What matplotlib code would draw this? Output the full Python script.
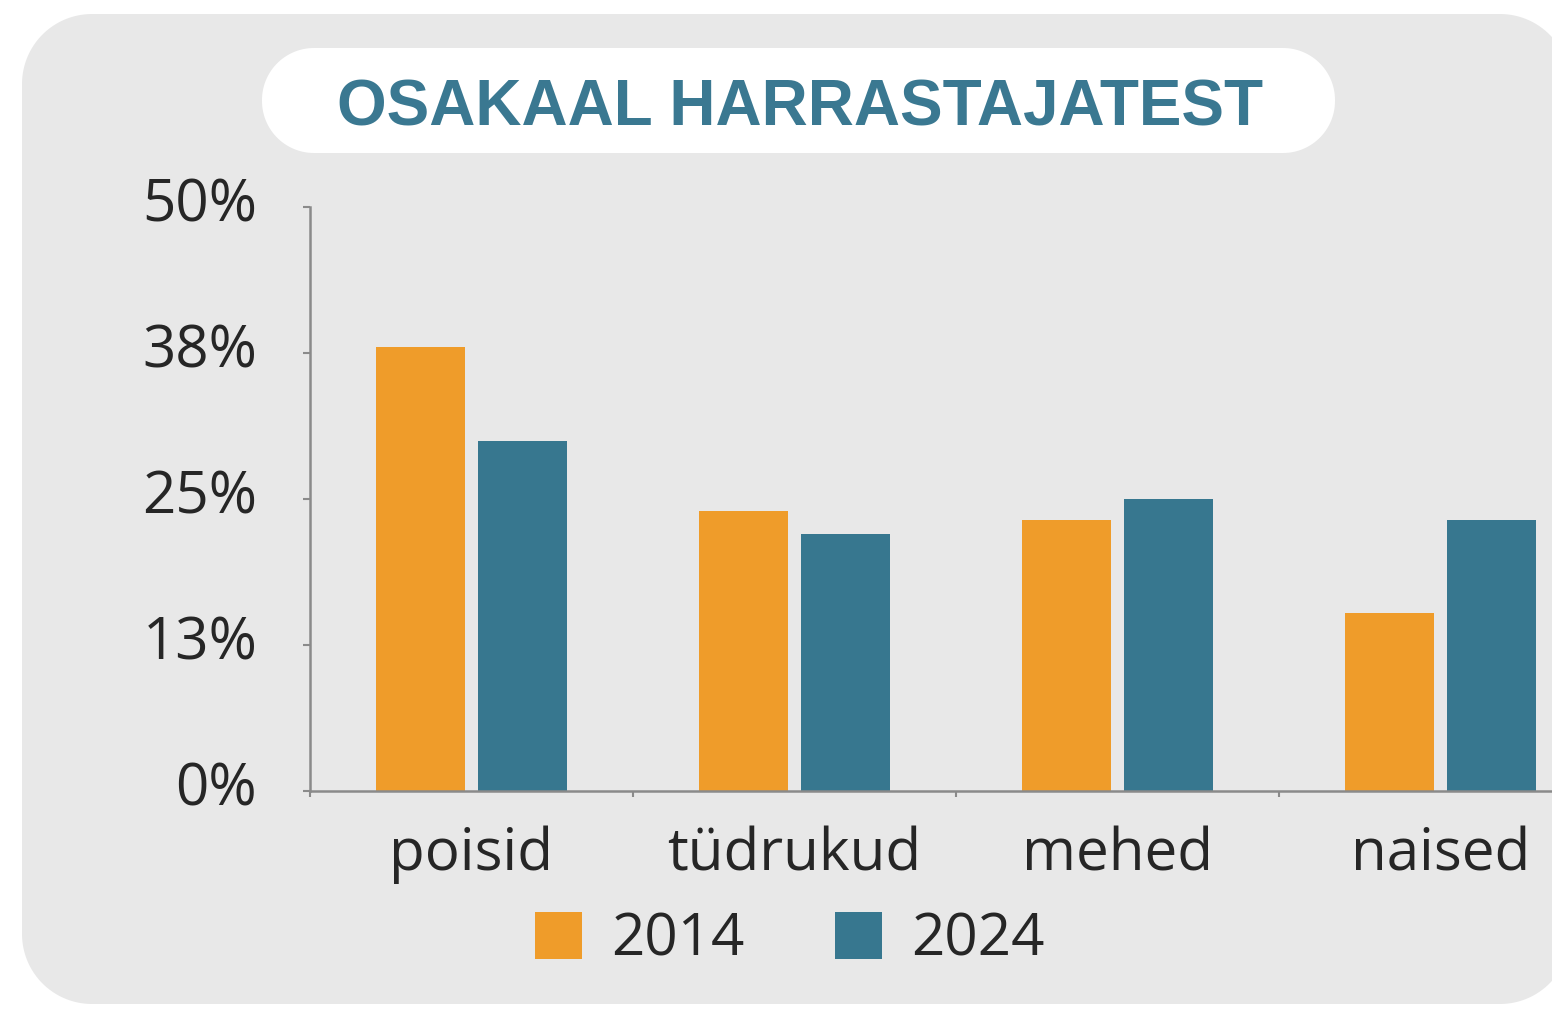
import matplotlib
matplotlib.use("Agg")
import matplotlib.pyplot as plt
import numpy as np
from matplotlib.patches import Polygon
from matplotlib.transforms import IdentityTransform, ScaledTranslation

# ---- data ----
categories = ["poisid", "tüdrukud", "mehed", "naised"]
years = ["2014", "2024"]
values_2014 = [38.0, 24.0, 23.2, 15.2]
values_2024 = [30.0, 22.0, 25.0, 23.2]
yticks = [0, 12.5, 25, 37.5, 50]
ytick_labels = ["0%", "13%", "25%", "38%", "50%"]
title = "OSAKAAL HARRASTAJATEST"

# ---- style ----
W, H = 1552, 1010
DPI = 100
ORANGE = "#EF9C2A"
TEAL = "#37778F"
PANEL = "#E8E8E8"
TITLE_C = "#3A7891"
TEXT_C = "#262626"
AXIS_C = "#8A8A8A"
FONT = "Open Sans"

plt.rcParams["font.family"] = [FONT, "DejaVu Sans"]

fig = plt.figure(figsize=(W / DPI, H / DPI), dpi=DPI)
fig.patch.set_facecolor("white")


def px_box(x0, y0_top, x1, y1_top, r, color):
    # rounded rectangle in pixel coordinates measured from top-left
    yb, yt = H - y1_top, H - y0_top
    t = np.linspace(0, np.pi / 2, 30)
    corners = [
        (x1 - r, yt - r, t),
        (x0 + r, yt - r, t + np.pi / 2),
        (x0 + r, yb + r, t + np.pi),
        (x1 - r, yb + r, t + 3 * np.pi / 2),
    ]
    pts = np.vstack([np.column_stack([cx + r * np.cos(a), cy + r * np.sin(a)])
                     for cx, cy, a in corners])
    p = Polygon(pts, closed=True, transform=IdentityTransform(),
                facecolor=color, edgecolor="none", zorder=-10)
    fig.patches.append(p)


px_box(22, 14, 1570, 1004, 70, PANEL)
px_box(262, 48, 1335, 153, 52, "white")

fig.text(800 / W, (H - 125) / H, title, ha="center", va="baseline",
         fontsize=46, fontweight="bold", color=TITLE_C,
         family=["Liberation Sans", "DejaVu Sans"])

# ---- axes ----
ax_left, ax_right, ax_bottom, ax_top = 310, 1602, 791, 207
ax = fig.add_axes([ax_left / W, (H - ax_bottom) / H,
                   (ax_right - ax_left) / W, (ax_bottom - ax_top) / H])
ax.set_facecolor("none")
ax.set_zorder(1)

x = np.arange(len(categories)) + 0.5
bw = 0.276
off = 0.157
b1 = ax.bar(x - off, values_2014, bw, color=ORANGE, label=years[0], linewidth=0, zorder=2)
b2 = ax.bar(x + off, values_2024, bw, color=TEAL, label=years[1], linewidth=0, zorder=2)

ax.set_xlim(0, len(categories))
ax.set_ylim(0, 50)

for s in ["top", "right"]:
    ax.spines[s].set_visible(False)
for s in ["left", "bottom"]:
    ax.spines[s].set_color(AXIS_C)
    ax.spines[s].set_linewidth(1.8)
    ax.spines[s].set_zorder(3)

ax.set_yticks(yticks)
ax.set_yticklabels(ytick_labels)
ax.tick_params(axis="y", direction="out", length=5, width=1.5, color=AXIS_C,
               pad=33, labelsize=42, labelcolor=TEXT_C)
shift_up = ScaledTranslation(0, 8 / DPI, fig.dpi_scale_trans)
for lab in ax.get_yticklabels():
    lab.set_transform(lab.get_transform() + shift_up)

ax.set_xticks(np.arange(len(categories) + 1))
ax.set_xticklabels([])
ax.tick_params(axis="x", which="major", direction="out", length=4.5, width=1.5,
               color=AXIS_C)
ax.set_xticks(x, categories, minor=True)
ax.tick_params(axis="x", which="minor", length=0, pad=25, labelsize=42,
               labelcolor=TEXT_C)

fig.legend(handles=[b1, b2], labels=years, loc="center",
           bbox_to_anchor=(790 / W, 1 - 940 / H), bbox_transform=fig.transFigure,
           ncol=2, frameon=False, fontsize=42, handlelength=0.81,
           handleheight=0.86, handletextpad=0.5, columnspacing=1.55,
           borderpad=0, borderaxespad=0, labelcolor=TEXT_C)

fig.savefig("out.png", dpi=DPI)
